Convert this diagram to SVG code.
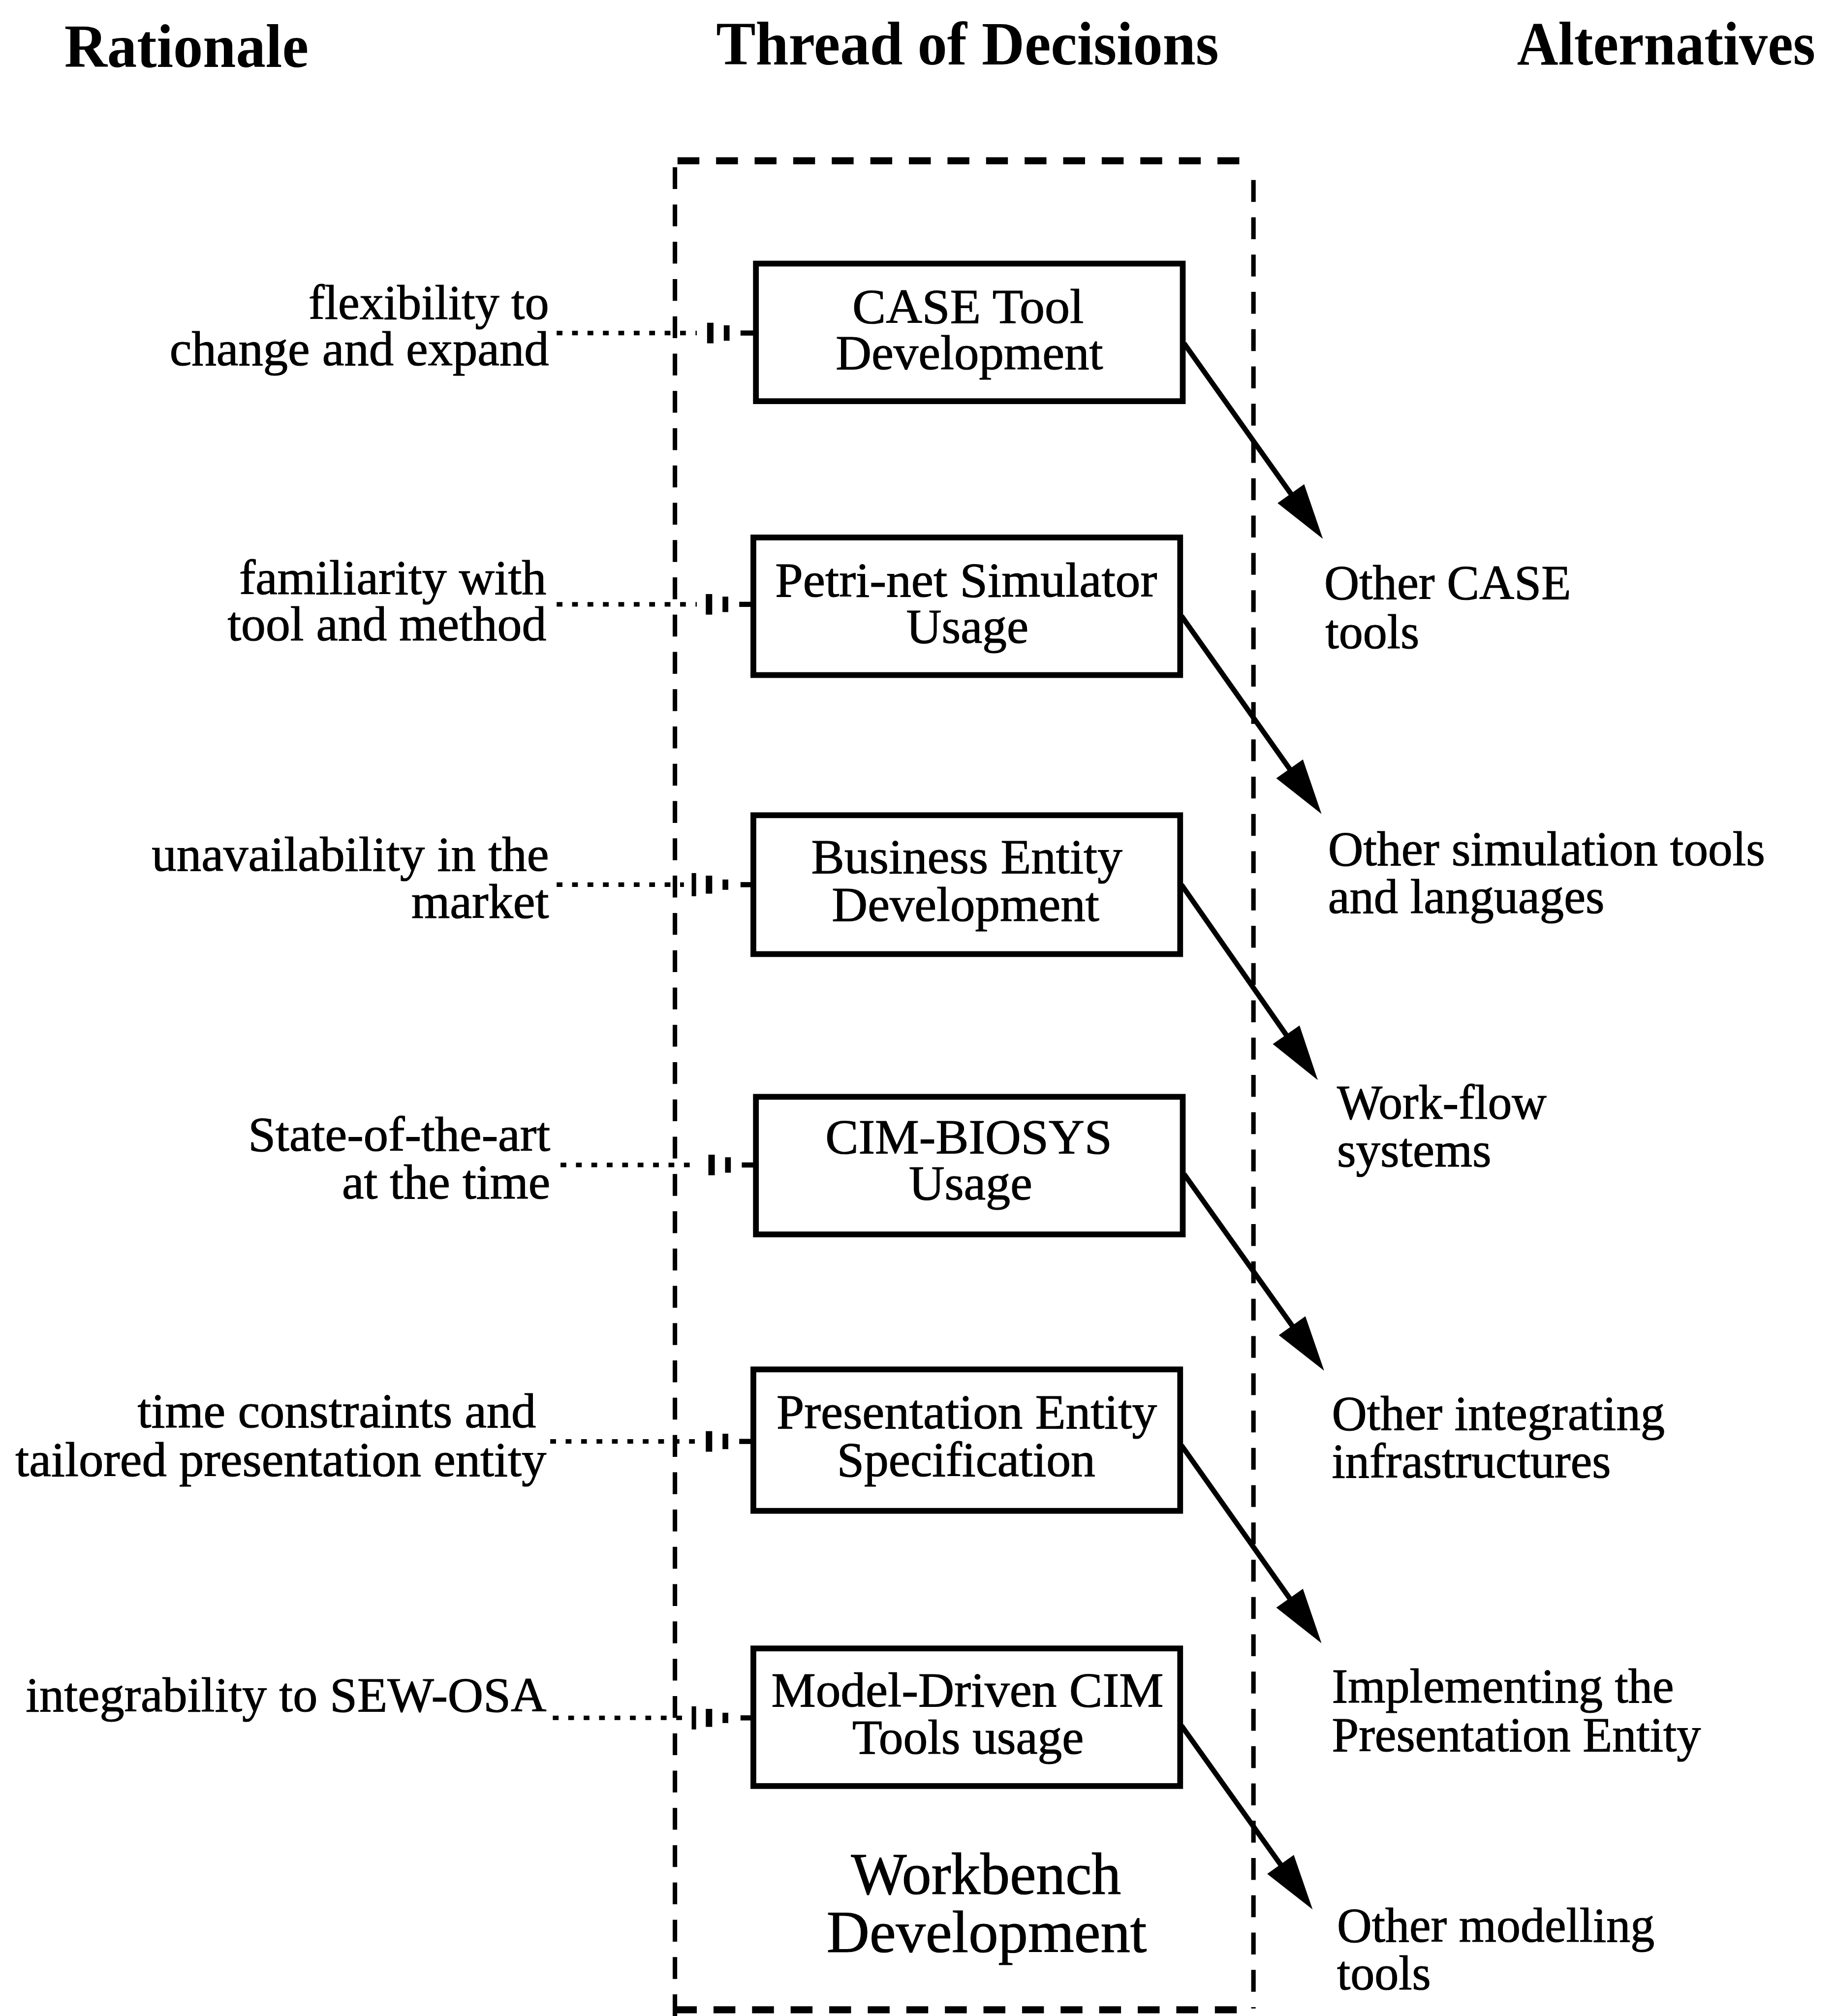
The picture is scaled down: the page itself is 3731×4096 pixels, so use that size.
<svg xmlns="http://www.w3.org/2000/svg" width="3731" height="4096" viewBox="0 0 3731 4096">
  <style>
    .t { font-family: "Liberation Serif", "Times New Roman", serif; font-size: 38px; fill: #000; stroke: #000; stroke-width: 0.45; }
    .h { font-weight: bold; font-size: 48px; stroke-width: 0; }
    .wb { font-size: 46px; }
    .box { fill: #fff; stroke: #000; stroke-width: 4.5; }
    .side { fill: none; stroke: #000; stroke-width: 3.5; stroke-dasharray: 17 12; }
    .edge { fill: none; stroke: #000; stroke-width: 5.5; stroke-dasharray: 17 13; }
    .arrow { fill: none; stroke: #000; stroke-width: 4; marker-end: url(#head); }
    .dots { fill: none; stroke: #000; stroke-width: 3.5; stroke-dasharray: 4.5 7.5; }
    .tick { fill: #000; }
  </style>
  <defs>
    <marker id="head" markerUnits="userSpaceOnUse" viewBox="-45 -14 47 28" markerWidth="47" markerHeight="28" refX="-20" refY="0" orient="auto">
      <path d="M0,0 L-43,-12.7 L-43,12.7 Z" fill="#000"/>
    </marker>
  </defs>
  <rect width="3731" height="4096" fill="#fff"/>
  <g transform="scale(2.6125)">
    <!-- column headings -->
    <g id="headings">
      <text class="t h" x="50" y="52" textLength="190" lengthAdjust="spacingAndGlyphs">Rationale</text>
      <text class="t h" x="557" y="50" textLength="391" lengthAdjust="spacingAndGlyphs">Thread of Decisions</text>
      <text class="t h" x="1180" y="50" textLength="232" lengthAdjust="spacingAndGlyphs">Alternatives</text>
    </g>

    <!-- workbench development frame -->
    <g id="workbench">
      <path class="edge" d="M527,125 H975"/>
      <path class="edge" d="M525,1563 H975"/>
      <path class="side" d="M525,130 V1568"/>
      <path class="side" d="M975,140 V1562"/>
      <text class="t wb" x="662" y="1473" textLength="210" lengthAdjust="spacingAndGlyphs">Workbench</text>
      <text class="t wb" x="643" y="1518" textLength="249" lengthAdjust="spacingAndGlyphs">Development</text>
    </g>

    <!-- connectors: rationale links and alternative arrows -->
    <g id="connectors">
      <path class="dots" d="M433,259 H542"/>
      <path class="dots" d="M433,470 H542"/>
      <path class="dots" d="M433,688 H532"/>
      <path class="dots" d="M436,906 H542"/>
      <path class="dots" d="M428,1121 H542"/>
      <path class="dots" d="M430,1336 H532"/>
      <g class="tick">
        <rect x="550" y="251" width="5" height="16"/><rect x="563" y="253" width="4.5" height="12"/><rect x="576" y="257" width="11" height="4"/>
        <rect x="549" y="462" width="5" height="16"/><rect x="562" y="464" width="4.5" height="12"/><rect x="575" y="468" width="11" height="4"/>
        <rect x="538" y="679" width="3.5" height="18"/><rect x="549" y="681" width="5" height="14"/><rect x="562" y="684" width="4.5" height="8"/><rect x="576" y="686" width="10" height="4"/>
        <rect x="551" y="898" width="5" height="16"/><rect x="564" y="900" width="4.5" height="12"/><rect x="577" y="904" width="11" height="4"/>
        <rect x="549" y="1113" width="5" height="16"/><rect x="562" y="1115" width="4.5" height="12"/><rect x="575" y="1119" width="11" height="4"/>
        <rect x="538" y="1327" width="3.5" height="18"/><rect x="549" y="1329" width="5" height="14"/><rect x="562" y="1332" width="4.5" height="8"/><rect x="576" y="1334" width="10" height="4"/>
      </g>
      <path class="arrow" d="M921,267 L1017.4,402.7"/>
      <path class="arrow" d="M919,479 L1016.4,616.7"/>
      <path class="arrow" d="M919,688 L1013.6,823.6"/>
      <path class="arrow" d="M921,913 L1018.4,1049.7"/>
      <path class="arrow" d="M919,1124 L1016.4,1261.7"/>
      <path class="arrow" d="M919,1342 L1009.4,1468.7"/>
    </g>

    <!-- decision nodes -->
    <g id="case-tool">
      <rect class="box" x="588" y="205" width="332" height="107"/>
      <text class="t" x="663" y="251" textLength="180" lengthAdjust="spacingAndGlyphs">CASE Tool</text>
      <text class="t" x="650" y="287" textLength="208" lengthAdjust="spacingAndGlyphs">Development</text>
    </g>
    <g id="petri-net">
      <rect class="box" x="586" y="418" width="332" height="107"/>
      <text class="t" x="603" y="464" textLength="297" lengthAdjust="spacingAndGlyphs">Petri-net Simulator</text>
      <text class="t" x="705" y="500" textLength="95" lengthAdjust="spacingAndGlyphs">Usage</text>
    </g>
    <g id="business-entity">
      <rect class="box" x="586" y="634" width="332" height="108"/>
      <text class="t" x="631" y="679" textLength="242" lengthAdjust="spacingAndGlyphs">Business Entity</text>
      <text class="t" x="647" y="716" textLength="208" lengthAdjust="spacingAndGlyphs">Development</text>
    </g>
    <g id="cim-biosys">
      <rect class="box" x="588" y="853" width="332" height="107"/>
      <text class="t" x="642" y="897" textLength="223" lengthAdjust="spacingAndGlyphs">CIM-BIOSYS</text>
      <text class="t" x="707" y="933" textLength="96" lengthAdjust="spacingAndGlyphs">Usage</text>
    </g>
    <g id="presentation-entity">
      <rect class="box" x="586" y="1065" width="332" height="110"/>
      <text class="t" x="604" y="1111" textLength="296" lengthAdjust="spacingAndGlyphs">Presentation Entity</text>
      <text class="t" x="651" y="1148" textLength="201" lengthAdjust="spacingAndGlyphs">Specification</text>
    </g>
    <g id="model-driven">
      <rect class="box" x="586" y="1282" width="332" height="107"/>
      <text class="t" x="600" y="1327" textLength="305" lengthAdjust="spacingAndGlyphs">Model-Driven CIM</text>
      <text class="t" x="663" y="1364" textLength="180" lengthAdjust="spacingAndGlyphs">Tools usage</text>
    </g>

    <!-- rationale labels -->
    <g id="rationale-1">
      <text class="t" x="240" y="248" textLength="187" lengthAdjust="spacingAndGlyphs">flexibility to</text>
      <text class="t" x="132" y="284" textLength="295" lengthAdjust="spacingAndGlyphs">change and expand</text>
    </g>
    <g id="rationale-2">
      <text class="t" x="186" y="462" textLength="239" lengthAdjust="spacingAndGlyphs">familiarity with</text>
      <text class="t" x="177" y="498" textLength="248" lengthAdjust="spacingAndGlyphs">tool and method</text>
    </g>
    <g id="rationale-3">
      <text class="t" x="118" y="677" textLength="309" lengthAdjust="spacingAndGlyphs">unavailability in the</text>
      <text class="t" x="320" y="714" textLength="107" lengthAdjust="spacingAndGlyphs">market</text>
    </g>
    <g id="rationale-4">
      <text class="t" x="193" y="895" textLength="235" lengthAdjust="spacingAndGlyphs">State-of-the-art</text>
      <text class="t" x="266" y="932" textLength="162" lengthAdjust="spacingAndGlyphs">at the time</text>
    </g>
    <g id="rationale-5">
      <text class="t" x="107" y="1110" textLength="310" lengthAdjust="spacingAndGlyphs">time constraints and</text>
      <text class="t" x="12" y="1148" textLength="413" lengthAdjust="spacingAndGlyphs">tailored presentation entity</text>
    </g>
    <g id="rationale-6">
      <text class="t" x="20" y="1331" textLength="405" lengthAdjust="spacingAndGlyphs">integrability to SEW-OSA</text>
    </g>

    <!-- alternatives -->
    <g id="alt-1">
      <text class="t" x="1030" y="466" textLength="192" lengthAdjust="spacingAndGlyphs">Other CASE</text>
      <text class="t" x="1031" y="504" textLength="73" lengthAdjust="spacingAndGlyphs">tools</text>
    </g>
    <g id="alt-2">
      <text class="t" x="1033" y="673" textLength="340" lengthAdjust="spacingAndGlyphs">Other simulation tools</text>
      <text class="t" x="1033" y="710" textLength="215" lengthAdjust="spacingAndGlyphs">and languages</text>
    </g>
    <g id="alt-3">
      <text class="t" x="1040" y="870" textLength="163" lengthAdjust="spacingAndGlyphs">Work-flow</text>
      <text class="t" x="1040" y="907" textLength="120" lengthAdjust="spacingAndGlyphs">systems</text>
    </g>
    <g id="alt-4">
      <text class="t" x="1036" y="1112" textLength="259" lengthAdjust="spacingAndGlyphs">Other integrating</text>
      <text class="t" x="1036" y="1149" textLength="217" lengthAdjust="spacingAndGlyphs">infrastructures</text>
    </g>
    <g id="alt-5">
      <text class="t" x="1036" y="1324" textLength="266" lengthAdjust="spacingAndGlyphs">Implementing the</text>
      <text class="t" x="1036" y="1362" textLength="287" lengthAdjust="spacingAndGlyphs">Presentation Entity</text>
    </g>
    <g id="alt-6">
      <text class="t" x="1040" y="1510" textLength="247" lengthAdjust="spacingAndGlyphs">Other modelling</text>
      <text class="t" x="1040" y="1547" textLength="73" lengthAdjust="spacingAndGlyphs">tools</text>
    </g>
  </g>
</svg>
